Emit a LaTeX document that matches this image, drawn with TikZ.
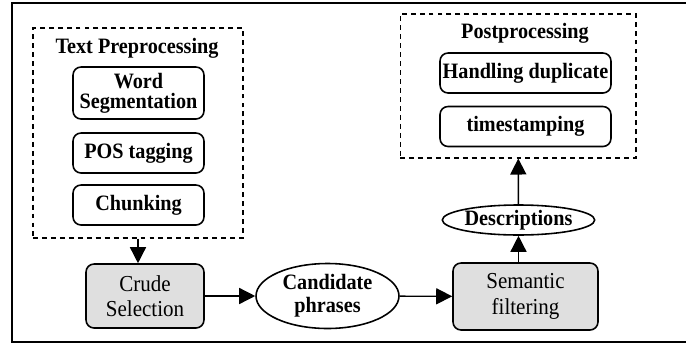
\documentclass[tikz,border=0pt]{standalone}
\usepackage{fontspec}
\setmainfont[FakeStretch=0.92]{Liberation Serif}
\usepackage{tikz}
\usetikzlibrary{shapes.geometric}
\usetikzlibrary{arrows.meta}

\begin{document}
\begin{tikzpicture}[x=0.02cm,y=-0.02cm,
    font=\fontsize{12.5}{13}\selectfont\bfseries,
    stagebox/.style={rectangle,rounded corners=0.16cm,draw,line width=0.9pt,
        align=center,inner sep=1pt},
    grayboxed/.style={stagebox,fill=gray!25,font=\fontsize{13}{14.5}\selectfont},
    phrase/.style={ellipse,draw,line width=0.9pt,align=center,inner sep=0pt},
    group/.style={rectangle,draw,dash pattern=on 2.8pt off 2.3pt,line width=0.6pt,
        inner sep=0pt}]
\useasboundingbox (0,0) rectangle (686,345);
\draw[line width=1.2pt] (686,3) -- (12,3) -- (12,342) -- (686,342);

\begin{scope}[every node/.style={stagebox,minimum width=2.62cm}]
    \node[minimum height=1.04cm,font=\fontsize{12.5}{11.5}\selectfont\bfseries] (seg) at (138.5,93) {Word\\Segmentation};
    \node[minimum height=0.8cm] (pos) at (138.5,153) {POS tagging};
    \node[minimum height=0.8cm] (chunk) at (138.5,205) {Chunking};
\end{scope}
\node[group,minimum width=4.2cm,minimum height=4.2cm] (pre) at (138,133) {};
\node (pretitle) at (137,48) {Text Preprocessing};

\begin{scope}[every node/.style={stagebox,minimum width=3.42cm,minimum height=0.8cm}]
    \node (dup) at (525.5,73) {Handling duplicate};
    \node (stamp) at (525.5,126.5) {timestamping};
\end{scope}
\node[group,minimum width=4.72cm,minimum height=2.88cm] (post) at (518,86) {};
\node (posttitle) at (525,33) {Postprocessing};

\node[grayboxed,minimum width=2.36cm,minimum height=1.28cm] (crude) at (145,296) {Crude\\Selection};
\node[phrase,minimum width=2.86cm,minimum height=1.3cm] (cand) at (327.5,296) {Candidate\\phrases};
\node[grayboxed,minimum width=2.9cm,minimum height=1.34cm] (sem) at (525.5,296.5) {Semantic\\filtering};
\node[phrase,minimum width=2.58cm,minimum height=0.6cm] (desc) at (518.5,220) {Descriptions};

\begin{scope}[>={Triangle[length=0.32cm,width=0.32cm]},
              every path/.style={draw=black,line width=0.8pt}]
    \path[->] (pre) -- (pre |- crude.north);
    \path[->] (crude) -- (cand);
    \path[->] (cand) -- (sem);
    \path[->] (desc |- sem.north) -- (desc);
    \path[->] (desc) -- (post);
\end{scope}

\end{tikzpicture}
\end{document}
